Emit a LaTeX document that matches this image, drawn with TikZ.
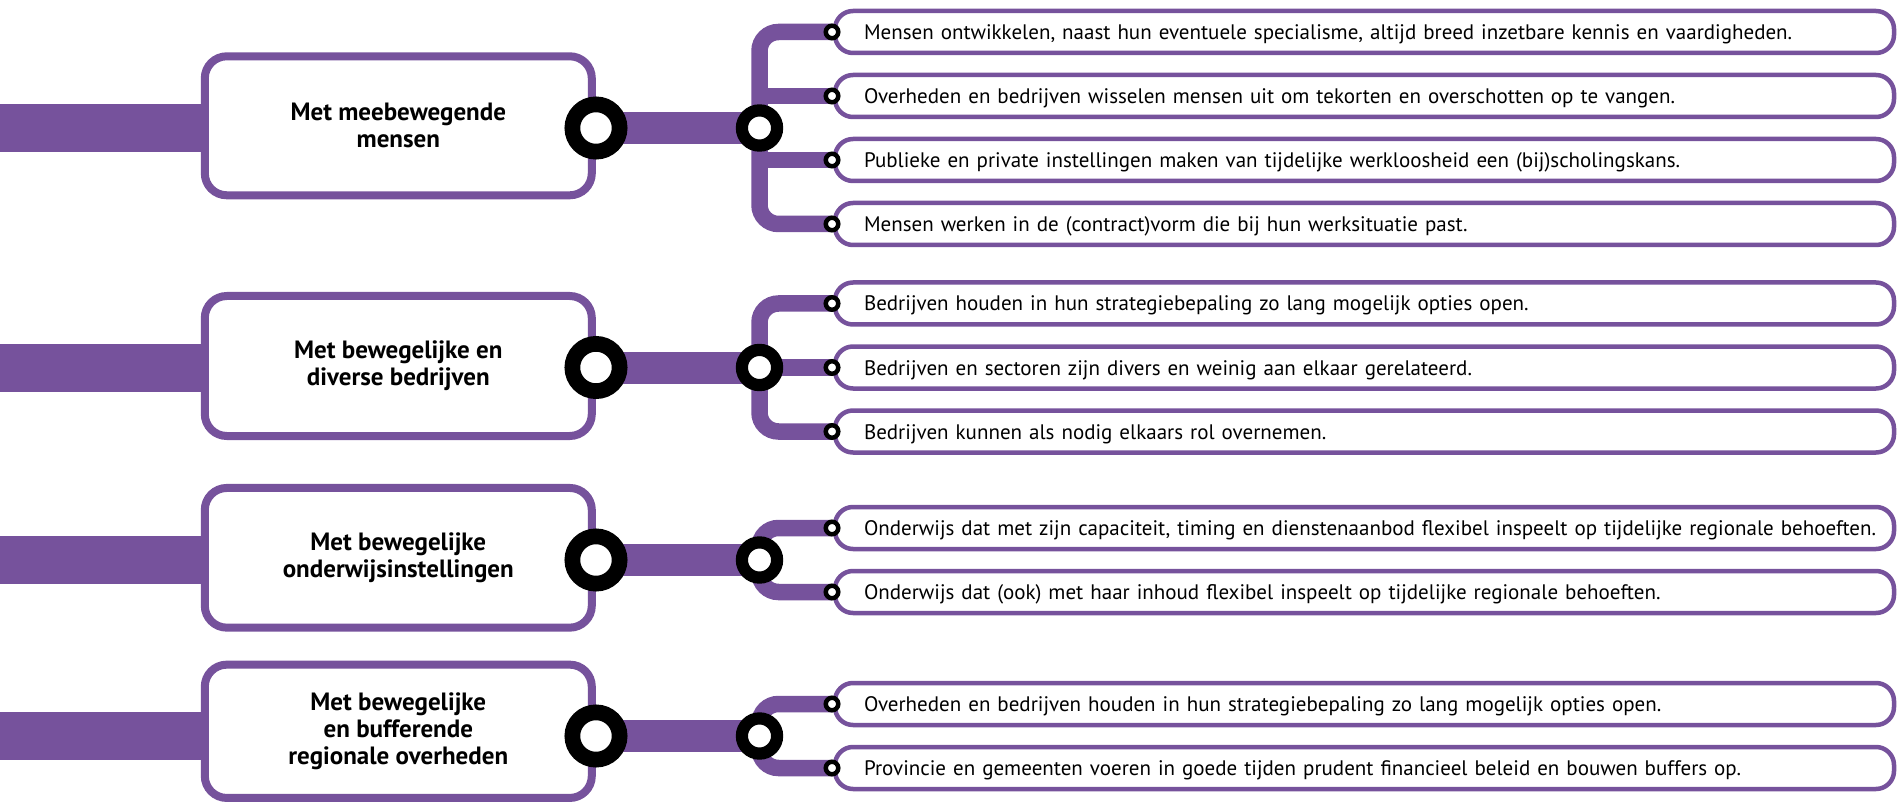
\documentclass[tikz,border=0pt]{standalone}
\usepackage{fontspec}
\setmainfont{PT Sans}
\definecolor{vio}{RGB}{118,82,156}
\pgfdeclarelayer{bg}
\pgfsetlayers{bg,main}
\tikzset{
 bigbox/.style={draw=vio, line width=8pt, fill=white, rounded corners=22pt, minimum width=387pt, inner sep=0pt, outer sep=0pt, align=center, font=\fontsize{25}{27}\selectfont\bfseries},
 itembox/.style={draw=vio, line width=4.5pt, fill=white, rounded corners=18pt, minimum width=1059pt, minimum height=42pt, text width=1001pt, inner xsep=29pt, inner ysep=0pt, outer sep=0pt, align=left, anchor=west, text height=19pt, text depth=4pt, font=\fontsize{21}{24}\selectfont},
 bigring/.style={circle, draw=black, line width=15.7pt, fill=white, minimum size=47.3pt, inner sep=0pt},
 smallring/.style={circle, draw=black, line width=12.2pt, fill=white, minimum size=35.2pt, inner sep=0pt},
 dotring/.style={circle, draw=black, line width=4.5pt, fill=white, minimum size=12.5pt, inner sep=0pt},
 leftbar/.style={draw=vio, line width=48pt},
 connbar/.style={draw=vio, line width=32pt},
 branch/.style={draw=vio, line width=16.5pt, rounded corners=19pt},
}
\begin{document}
\begin{tikzpicture}[x=1pt,y=-1pt]
\useasboundingbox (0,0) rectangle (1901,802);
% main boxes
\node[bigbox, minimum height=139pt] (b1) at (398.3,125.8) {Met meebewegende\\mensen};
\node[bigbox, minimum height=140pt] (b2) at (398.3,366) {Met bewegelijke en\\diverse bedrijven};
\node[bigbox, minimum height=139.7pt] (b3) at (398.3,557.8) {Met bewegelijke\\onderwijsinstellingen};
\node[bigbox, minimum height=133.3pt] (b4) at (398.3,731.3) {Met bewegelijke\\en bufferende\\regionale overheden};
% left edge coordinates
\coordinate (e1) at (0,128);
\coordinate (e2) at (0,367.5);
\coordinate (e3) at (0,560);
\coordinate (e4) at (0,736);
% item boxes
\node[itembox] (i11) at (835,32) {Mensen ontwikkelen, naast hun eventuele specialisme, altijd breed inzetbare kennis en vaardigheden.};
\node[itembox] (i12) at (835,96) {Overheden en bedrijven wisselen mensen uit om tekorten en overschotten op te vangen.};
\node[itembox] (i13) at (835,160) {Publieke en private instellingen maken van tijdelijke werkloosheid een (bij)scholingskans.};
\node[itembox] (i14) at (835,224) {Mensen werken in de (contract)vorm die bij hun werksituatie past.};
\node[itembox] (i21) at (835,303.5) {Bedrijven houden in hun strategiebepaling zo lang mogelijk opties open.};
\node[itembox] (i22) at (835,367.5) {Bedrijven en sectoren zijn divers en weinig aan elkaar gerelateerd.};
\node[itembox] (i23) at (835,431.5) {Bedrijven kunnen als nodig elkaars rol overnemen.};
\node[itembox] (i31) at (835,528) {\mbox{Onderwijs dat met zijn capaciteit, timing en dienstenaanbod flexibel inspeelt op tijdelijke regionale behoeften.}};
\node[itembox] (i32) at (835,592) {Onderwijs dat (ook) met haar inhoud flexibel inspeelt op tijdelijke regionale behoeften.};
\node[itembox] (i41) at (835,704) {Overheden en bedrijven houden in hun strategiebepaling zo lang mogelijk opties open.};
\node[itembox] (i42) at (835,768) {Provincie en gemeenten voeren in goede tijden prudent financieel beleid en bouwen buffers op.};
% rings
\foreach \g/\y in {1/128,2/367.5,3/560,4/736}{
  \node[bigring] (r\g) at (596,\y) {};
  \node[smallring] (s\g) at (759.5,\y) {};
}
% item dots
\foreach \n in {11,12,13,14,21,22,23,31,32,41,42}{
  \node[dotring] (d\n) at ([xshift=-3pt]i\n.west) {};
}
\begin{pgfonlayer}{bg}
  \foreach \g in {1,2,3,4}{
    \draw[leftbar] (e\g) -- (b\g.west |- e\g);
    \draw[connbar] (r\g.center) -- (s\g.center);
  }
  % brackets
  \draw[branch] (d11.center) -- (s1.center |- d11.center) -- (s1.center |- d14.center) -- (d14.center);
  \draw[branch] (s1.center |- d12.center) -- (d12.center);
  \draw[branch] (s1.center |- d13.center) -- (d13.center);
  \draw[branch] (d21.center) -- (s2.center |- d21.center) -- (s2.center |- d23.center) -- (d23.center);
  \draw[branch] (s2.center) -- (d22.center);
  \draw[branch] (d31.center) -- (s3.center |- d31.center) -- (s3.center |- d32.center) -- (d32.center);
  \draw[branch] (d41.center) -- (s4.center |- d41.center) -- (s4.center |- d42.center) -- (d42.center);
\end{pgfonlayer}
\end{tikzpicture}
\end{document}
